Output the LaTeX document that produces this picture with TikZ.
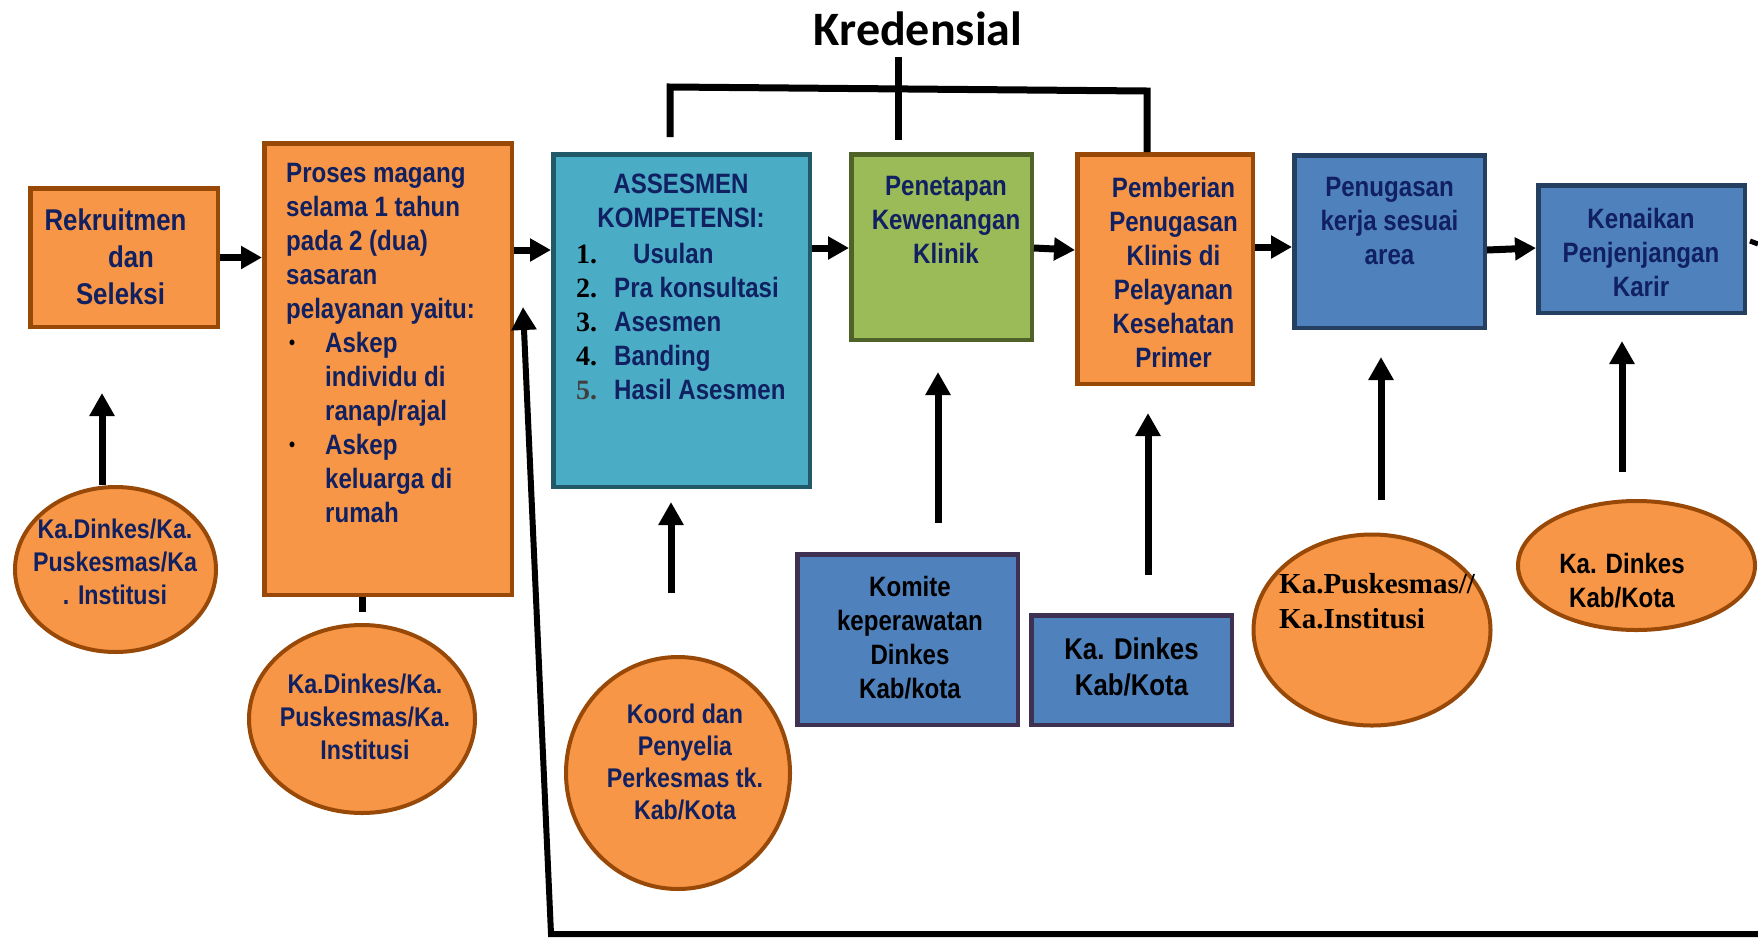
\documentclass[tikz,border=0pt]{standalone}
\usepackage{fontspec}
\setmainfont{Liberation Sans}
\newfontfamily\nar{Liberation Sans}[FakeStretch=0.86]
\newfontfamily\tms{Liberation Serif}
\newfontfamily\calfont{Carlito}
\usetikzlibrary{arrows.meta,shapes.geometric,calc}
\definecolor{ofill}{HTML}{F79646}
\definecolor{obrd}{HTML}{984807}
\definecolor{tfill}{HTML}{4BACC6}
\definecolor{tbrd}{HTML}{215968}
\definecolor{gfill}{HTML}{9BBB59}
\definecolor{gbrd}{HTML}{4F6228}
\definecolor{bfill}{HTML}{4F81BD}
\definecolor{bbrd}{HTML}{243F60}
\definecolor{pbrd}{HTML}{3F3151}
\definecolor{navy}{HTML}{102060}
\definecolor{dgray}{HTML}{404040}
\newcommand\blt{\makebox[39pt][l]{\hspace*{3pt}\raisebox{3pt}{\color{black}\fontsize{20}{20}\selectfont\textbullet}}}
\newcommand\ind{\hspace*{39pt}}
\newcommand\numb[1]{\makebox[38pt][l]{\color{black}\tms\bfseries #1}}
\newcommand\numr[1]{\makebox[38pt][l]{\color{dgray}\tms #1}}
\begin{document}
\begin{tikzpicture}[x=1pt,y=-1pt,
  box/.style={draw, rectangle, line width=4.5pt, inner sep=0pt},
  obox/.style={box, draw=obrd, fill=ofill},
  tbox/.style={box, draw=tbrd, fill=tfill},
  gbox/.style={box, draw=gbrd, fill=gfill},
  bbox/.style={box, draw=bbrd, fill=bfill},
  pbox/.style={box, draw=pbrd, fill=bfill},
  ell/.style={ellipse, draw=obrd, fill=ofill, line width=4pt, inner sep=0pt},
  txt/.style={font=\nar\bfseries\fontsize{28}{34}\selectfont, text=navy, align=center, inner sep=0pt},
  harr/.style={line width=7pt, -{Triangle[length=21pt,width=22pt]}},
  varr/.style={line width=7pt, -{Triangle[length=23pt,width=24pt]}},
  plain/.style={line width=7pt}
]
\useasboundingbox (0,0) rectangle (1758,938);

% boxes
\node[obox, minimum width=187.5pt, minimum height=138.5pt] (rek) at (124,257.5) {};
\node[obox, minimum width=247.5pt, minimum height=451.5pt] (proses) at (388,369) {};
\node[tbox, minimum width=256.5pt, minimum height=332.5pt] (assess) at (681.5,320.5) {};
\node[gbox, minimum width=180.5pt, minimum height=185.5pt] (penet) at (941.5,247) {};
\node[obox, minimum width=175.5pt, minimum height=229.5pt] (pember) at (1165,269) {};
\node[bbox, minimum width=190.5pt, minimum height=172.5pt] (penug) at (1389.5,241.5) {};
\node[bbox, minimum width=206.5pt, minimum height=127.5pt] (kenaik) at (1641.5,249) {};
\node[pbox, minimum width=220.5pt, minimum height=170.5pt] (komite) at (907.5,639.5) {};
\node[pbox, minimum width=200.5pt, minimum height=109.5pt] (kadbox) at (1131.5,670) {};

% ellipses
\node[ell, minimum width=201pt, minimum height=165pt] (e1) at (115.5,569.5) {};
\node[ell, minimum width=226pt, minimum height=188pt] (e2) at (362,719) {};
\node[ell, minimum width=224pt, minimum height=232pt] (koord) at (678,773) {};
\node[ell, minimum width=237pt, minimum height=191pt] (kapus) at (1372,630) {};
\node[ell, minimum width=237pt, minimum height=129pt] (kadell) at (1636.5,565.5) {};

% texts
\node[anchor=base, inner sep=0pt, font=\calfont\bfseries\fontsize{48}{48}\selectfont] (kred) at (918,45) {Kredensial};
\node[txt, font=\nar\bfseries\fontsize{30}{37}\selectfont] (rekt) at (115.5,257) {Rekruitmen\\\hspace*{31pt}dan\\\hspace*{10pt}Seleksi};
\node[txt, align=left, anchor=west] (prost) at (286,343) {Proses magang\\selama 1 tahun\\pada 2 (dua)\\sasaran\\pelayanan yaitu:\\\blt Askep\\\ind individu di\\\ind ranap/rajal\\\blt Askep\\\ind keluarga di\\\ind rumah};
\node[txt] (asst) at (681,201) {ASSESMEN\\KOMPETENSI:};
\node[txt, align=left, anchor=west] (assl) at (576,322) {\numb{1.}\hspace*{19pt}Usulan\\\numb{2.}Pra konsultasi\\\numb{3.}Asesmen\\\numb{4.}Banding\\\numr{5.}Hasil Asesmen};
\node[txt] (penett) at (946,220) {Penetapan\\Kewenangan\\Klinik};
\node[txt] (pembert) at (1173.5,272) {Pemberian\\Penugasan\\Klinis di\\Pelayanan\\Kesehatan\\Primer};
\node[txt] (penugt) at (1389.5,221) {Penugasan\\kerja sesuai\\area};
\node[txt] (kenaikt) at (1641,252) {Kenaikan\\Penjenjangan\\Karir};
\node[txt, text=black] (komitet) at (910,638) {Komite\\keperawatan\\Dinkes\\Kab/kota};
\node[txt, text=black, font=\nar\bfseries\fontsize{30}{36}\selectfont] (kadboxt) at (1131.5,667) {Ka. Dinkes\\Kab/Kota};
\node[txt, font=\nar\bfseries\fontsize{27}{33}\selectfont] (e1t) at (115,562) {Ka.Dinkes/Ka.\\Puskesmas/Ka\\. Institusi};
\node[txt, font=\nar\bfseries\fontsize{27}{33}\selectfont] (e2t) at (365,717) {Ka.Dinkes/Ka.\\Puskesmas/Ka.\\Institusi};
\node[txt, font=\nar\bfseries\fontsize{27}{32}\selectfont] (koordt) at (685,762) {Koord dan\\Penyelia\\Perkesmas tk.\\Kab/Kota};
\node[txt, text=black, align=left, anchor=west, font=\tms\bfseries\fontsize{29}{35}\selectfont] (kapust) at (1279,601) {Ka.Puskesmas//\\Ka.Institusi};
\node[txt, text=black] (kadellt) at (1622,581) {Ka. Dinkes\\Kab/Kota};

% coordinates for free ends
\coordinate (kb1) at (670,137);
\coordinate (kb2) at (670,87);
\coordinate (kb3) at (1147,91);
\coordinate (kc1) at (898,57);
\coordinate (kc2) at (898,140);
\coordinate (a1) at (102,393);
\coordinate (stub) at (362,612);
\coordinate (a2s) at (671,593);
\coordinate (a2) at (671,502);
\coordinate (a3s) at (938,523);
\coordinate (a3) at (938,372);
\coordinate (a4s) at (1148,575);
\coordinate (a4) at (1148,413);
\coordinate (a5s) at (1381,500);
\coordinate (a5) at (1381,357);
\coordinate (a6s) at (1622,472);
\coordinate (a6) at (1622,341);
\coordinate (lb) at (1758,934);
\coordinate (lc) at (551,934);
\coordinate (lt) at (523,307);
\coordinate (rs1) at (1750,241);
\coordinate (rs2) at (1758,244);

% Kredensial bracket
\draw[plain] (kb1) -- (kb2) -- (kb3) -- (pember.north -| kb3);
\draw[plain] (kc1) -- (kc2);

% horizontal flow arrows
\draw[harr] (rek.east) -- (rek.east -| proses.west);
\draw[harr] (proses.east |- 0,250) -- (assess.west |- 0,250);
\draw[harr] (assess.east |- 0,248) -- (penet.west |- 0,248);
\draw[harr] (penet.east |- 0,248) -- (pember.west |- 0,250);
\draw[harr] (pember.east |- 0,247) -- (penug.west |- 0,247);
\draw[harr] (penug.east |- 0,250) -- (kenaik.west |- 0,248);
\draw[line width=5pt] (rs1) -- (rs2);

% vertical arrows
\draw[varr] (e1.north -| a1) -- (a1);
\draw[plain] (proses.south -| stub) -- (stub);
\draw[varr] (a2s) -- (a2);
\draw[varr] (a3s) -- (a3);
\draw[varr] (a4s) -- (a4);
\draw[varr] (a5s) -- (a5);
\draw[varr] (a6s) -- (a6);

% long return arrow
\draw[line width=6pt, -{Triangle[length=23pt,width=24pt]}] (lb) -- (lc) -- (lt);
\end{tikzpicture}
\end{document}
